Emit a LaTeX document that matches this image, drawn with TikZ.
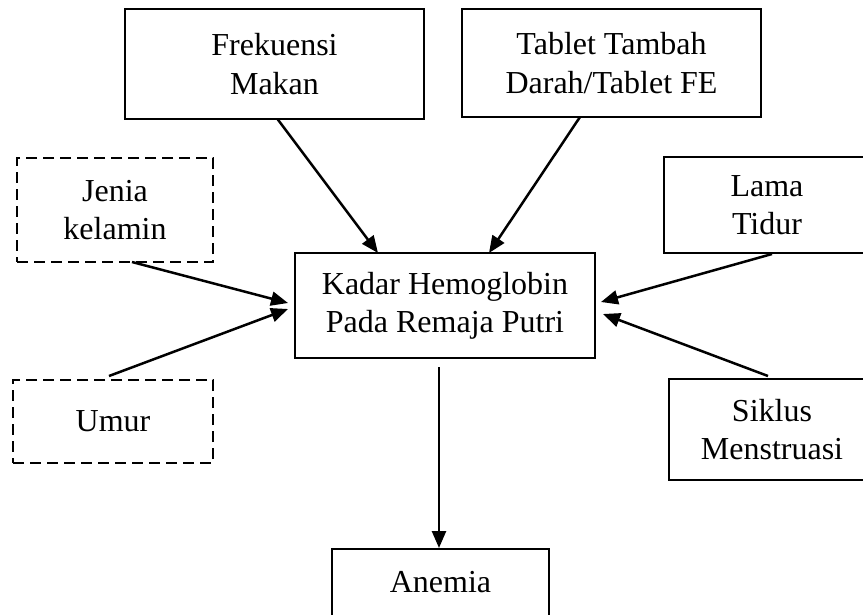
\documentclass[tikz,border=0pt]{standalone}
\usepackage{fontspec}
\setmainfont{Liberation Serif}
\usetikzlibrary{calc,arrows.meta}
\begin{document}
\begin{tikzpicture}[x=1pt,y=-1pt,
  box/.style={draw=black,line width=2.9pt,inner sep=0pt,outer sep=0pt,align=center,
    font=\fontsize{32}{38.4}\selectfont},
  dbox/.style={box,dash pattern=on 11pt off 6pt},
  arr/.style={line width=2.5pt,-{Triangle[length=17pt,width=14pt]}}]
\fill[white] (0,0) rectangle (863,614);
\useasboundingbox (0,0) rectangle (863,614);
\node[box,minimum width=299pt,minimum height=110pt] (frek) at (274.5,64) {Frekuensi\\Makan};
\node[box,minimum width=299pt,minimum height=108pt] (tab) at (611.5,63) {Tablet Tambah\\Darah/Tablet FE};
\node[dbox,minimum width=196pt,minimum height=104pt] (jenia) at (115,210) {Jenia\\kelamin};
\node[box,minimum width=206pt,minimum height=96pt] (lama) at (767,205) {Lama\\Tidur};
\node[box,minimum width=300pt,minimum height=105pt] (kadar) at (445,305.5) {Kadar Hemoglobin\\Pada Remaja Putri};
\node[dbox,minimum width=200pt,minimum height=83pt] (umur) at (113,421.5) {Umur};
\node[box,minimum width=206pt,minimum height=101pt] (siklus) at (772,429.5) {Siklus\\Menstruasi};
\node[box,minimum width=217pt,minimum height=67pt] (anemia) at (440.5,582.5) {Anemia};
\draw[arr] ($(frek.south)+(3,0)$) -- ($(kadar.north)+(-67,0)$);
\draw[arr] ($(tab.south)+(-31.5,0)$) -- ($(kadar.north)+(44,0)$);
\draw[arr] ($(jenia.south)+(17,0)$) -- ($(kadar.west)+(-7,-2.5)$);
\draw[arr] ($(umur.north)+(-4,-4)$) -- ($(kadar.west)+(-7,3.5)$);
\draw[arr] ($(lama.south)+(5,1)$) -- ($(kadar.east)+(6,-3.5)$);
\draw[arr] ($(siklus.north)+(-4,-3)$) -- ($(kadar.east)+(8,8.5)$);
\draw[arr] ($(kadar.south)+(-6,9)$) -- ($(anemia.north)+(-1.5,-1)$);
\end{tikzpicture}
\end{document}
